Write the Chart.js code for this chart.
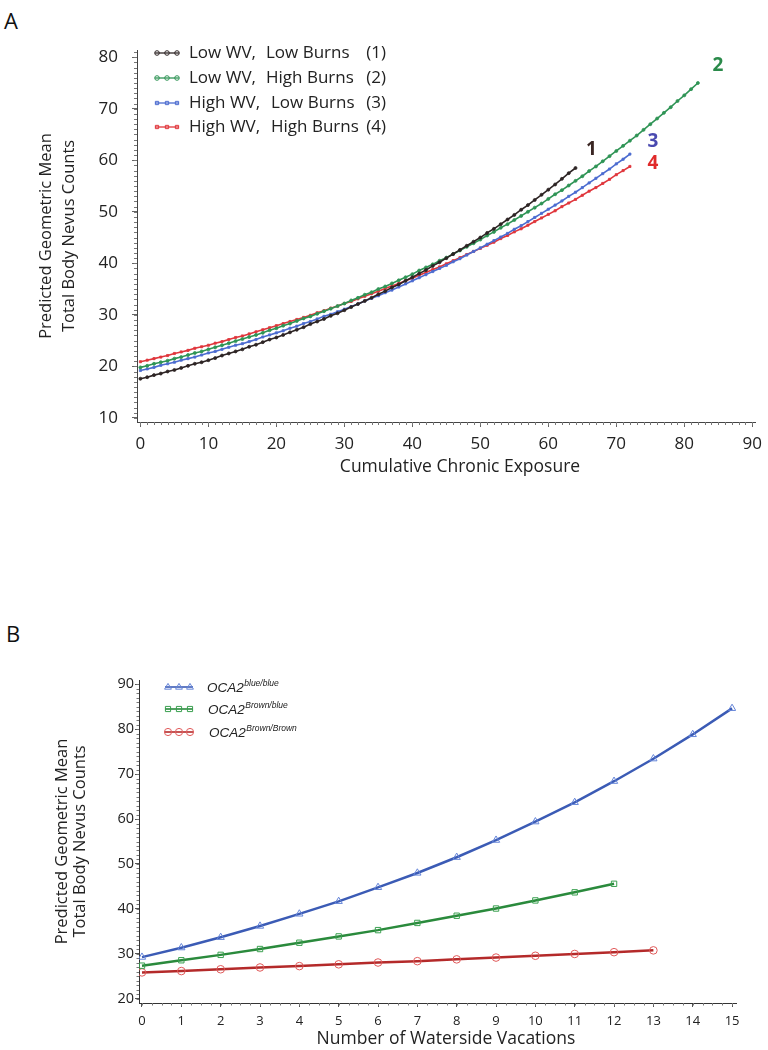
<!DOCTYPE html>
<html><head><meta charset="utf-8">
<script src="https://cdn.jsdelivr.net/npm/chart.js@4.4.1/dist/chart.umd.min.js"></script>
<style>
html,body{margin:0;padding:0;background:#fff;width:768px;height:1050px;overflow:hidden;}
#wrapA{position:absolute;left:0;top:0;width:768px;height:500px;}
#wrapB{position:absolute;left:0;top:600px;width:768px;height:450px;}
.panel{position:absolute;font-family:"Open Sans",sans-serif;font-size:22px;color:#111;line-height:26px;}
</style></head><body>
<div class="panel" style="left:4px;top:7px">A</div>
<div class="panel" style="left:6px;top:620px">B</div>
<div id="wrapA"><canvas id="cA" width="768" height="500"></canvas></div>
<div id="wrapB"><canvas id="cB" width="768" height="450"></canvas></div>
<script>
// ---------- Panel A data (x = cumulative chronic exposure, one point per unit starting at 0) ----------
const exposureTicks = [0,10,20,30,40,50,60,70,80,90];
const countTicksA = [10,20,30,40,50,60,70,80];
const lowWvLowBurns = [
17.6,17.9,18.3,18.6,19.0,19.3,19.7,20.1,20.5,20.8,
21.2,21.6,22.1,22.5,22.9,23.3,23.8,24.2,24.7,25.2,
25.6,26.1,26.6,27.1,27.6,28.2,28.7,29.2,29.8,30.3,
30.9,31.5,32.1,32.7,33.3,34.0,34.6,35.3,35.9,36.6,
37.3,38.0,38.7,39.5,40.2,41.0,41.8,42.6,43.4,44.2,
45.0,45.9,46.7,47.6,48.5,49.4,50.4,51.3,52.3,53.3,
54.3,55.3,56.4,57.5,58.5];
const lowWvHighBurns = [
19.8,20.1,20.5,20.8,21.1,21.5,21.8,22.2,22.6,22.9,
23.3,23.7,24.1,24.5,24.9,25.3,25.7,26.1,26.5,27.0,
27.4,27.9,28.3,28.8,29.3,29.7,30.2,30.7,31.2,31.7,
32.2,32.8,33.3,33.9,34.4,35.0,35.5,36.1,36.7,37.3,
37.9,38.6,39.2,39.8,40.5,41.1,41.8,42.5,43.2,43.9,
44.6,45.4,46.1,46.9,47.6,48.4,49.2,50.0,50.8,51.6,
52.5,53.4,54.2,55.1,56.0,56.9,57.9,58.8,59.8,60.8,
61.8,62.8,63.8,64.8,65.9,67.0,68.1,69.2,70.3,71.5,
72.6,73.8,75.0];
const highWvLowBurns = [
19.2,19.5,19.8,20.2,20.5,20.8,21.2,21.5,21.8,22.2,
22.6,22.9,23.3,23.7,24.1,24.4,24.8,25.2,25.7,26.1,
26.5,26.9,27.4,27.8,28.3,28.7,29.2,29.7,30.1,30.6,
31.1,31.6,32.1,32.7,33.2,33.7,34.3,34.8,35.4,36.0,
36.6,37.2,37.8,38.4,39.0,39.6,40.3,40.9,41.6,42.3,
43.0,43.7,44.4,45.1,45.8,46.6,47.3,48.1,48.9,49.7,
50.5,51.3,52.1,53.0,53.8,54.7,55.6,56.5,57.4,58.3,
59.3,60.2,61.2];
const highWvHighBurns = [
20.9,21.2,21.5,21.8,22.1,22.5,22.8,23.1,23.5,23.8,
24.1,24.5,24.8,25.2,25.6,25.9,26.3,26.7,27.1,27.5,
27.9,28.3,28.7,29.1,29.5,29.9,30.4,30.8,31.3,31.7,
32.2,32.6,33.1,33.6,34.1,34.6,35.1,35.6,36.1,36.6,
37.1,37.7,38.2,38.8,39.3,39.9,40.5,41.1,41.7,42.3,
42.9,43.5,44.1,44.8,45.4,46.1,46.7,47.4,48.1,48.8,
49.5,50.2,51.0,51.7,52.4,53.2,54.0,54.7,55.5,56.3,
57.2,58.0,58.8];
const seriesNamesA = ['Low WV,', 'Low WV,', 'High WV,', 'High WV,'];
const seriesBurnsA = ['Low Burns', 'High Burns', 'Low Burns', 'High Burns'];
const seriesNumA = ['(1)', '(2)', '(3)', '(4)'];
const endLabelsA = ['1', '2', '3', '4'];
const xTitleA = 'Cumulative Chronic Exposure';

// ---------- Panel B data ----------
const vacationTicks = [0,1,2,3,4,5,6,7,8,9,10,11,12,13,14,15];
const countTicksB = [20,30,40,50,60,70,80,90];
const ocaBlueBlue = [29.3,31.4,33.7,36.2,38.9,41.7,44.8,48.0,51.5,55.3,59.4,63.7,68.4,73.4,78.8,84.6];
const ocaBrownBlue = [27.4,28.6,29.8,31.1,32.5,33.9,35.3,36.9,38.5,40.1,41.9,43.7,45.6];
const ocaBrownBrown = [25.9,26.2,26.6,27.0,27.3,27.7,28.1,28.4,28.8,29.2,29.6,30.0,30.4,30.8];
const genotypeSup = ['blue/blue', 'Brown/blue', 'Brown/Brown'];
const xTitleB = 'Number of Waterside Vacations';

const FAM = '"Open Sans","DejaVu Sans",sans-serif';

const colA = ['#2d2424', '#2f9455', '#4c6cd0', '#e0363c'];
const labColA = ['#3a2623', '#2a8a4a', '#4a4ab0', '#e02a2a'];
const styleA = ['circle', 'circle', 'rect', 'rect'];

const minorTicks = {
  id: 'minorTicks',
  afterDraw(chart, args, o) {
    const ctx = chart.ctx, xs = chart.scales.x, ys = chart.scales.y;
    ctx.save();
    ctx.strokeStyle = o.color; ctx.lineWidth = 1;
    ctx.beginPath();
    for (let i = Math.ceil(xs.min / o.xStep); i * o.xStep <= xs.max + 1e-9; i++) {
      const p = Math.round(xs.getPixelForValue(i * o.xStep)) + 0.5;
      ctx.moveTo(p, xs.top); ctx.lineTo(p, xs.top + o.len);
    }
    for (let i = Math.ceil(ys.min / o.yStep); i * o.yStep <= ys.max + 1e-9; i++) {
      const p = Math.round(ys.getPixelForValue(i * o.yStep)) + 0.5;
      ctx.moveTo(ys.right, p); ctx.lineTo(ys.right - o.len, p);
    }
    ctx.stroke();
    // x-axis title, centred as in the reference
    ctx.fillStyle = '#222'; ctx.font = o.titleFont; ctx.textAlign = 'center'; ctx.textBaseline = 'middle';
    ctx.fillText(o.title, o.titleX, o.titleY);
    ctx.restore();
  }
};

function marker(ctx, style, x, y, r) {
  ctx.beginPath();
  if (style === 'circle') ctx.arc(x, y, r, 0, Math.PI * 2);
  else if (style === 'rect') ctx.rect(x - r * 0.72, y - r * 0.72, r * 1.44, r * 1.44);
  else if (style === 'triangle') { ctx.moveTo(x, y - r); ctx.lineTo(x + r * 0.95, y + r * 0.6); ctx.lineTo(x - r * 0.95, y + r * 0.6); ctx.closePath(); }
  ctx.stroke();
}

const legendA = {
  id: 'legendA',
  afterDraw(chart) {
    const ctx = chart.ctx;
    const rows = [53, 78, 103, 127];
    ctx.save();
    rows.forEach((y, i) => {
      ctx.strokeStyle = colA[i]; ctx.lineWidth = 1.3;
      ctx.beginPath(); ctx.moveTo(155, y); ctx.lineTo(179, y); ctx.stroke();
      ctx.lineWidth = 1;
      [157, 167, 177].forEach(mx => marker(ctx, styleA[i], mx, y, 2.3));
      ctx.fillStyle = '#222'; ctx.font = '17px ' + FAM; ctx.textBaseline = 'middle';
      ctx.textAlign = 'left';
      ctx.fillText(seriesNamesA[i], 189, y);
      ctx.fillText(seriesBurnsA[i], i < 2 ? 266 : 271, y);
      ctx.textAlign = 'right';
      ctx.fillText(seriesNumA[i], 386, y);
    });
    ctx.restore();
  }
};

const endLabels = {
  id: 'endLabels',
  afterDatasetsDraw(chart) {
    const ctx = chart.ctx;
    const off = [[16, -18], [20, -17], [23, -12], [23, -3]];
    ctx.save();
    ctx.font = 'bold 19px ' + FAM; ctx.textAlign = 'center'; ctx.textBaseline = 'middle';
    chart.data.datasets.forEach((d, i) => {
      const pts = chart.getDatasetMeta(i).data;
      const last = pts[pts.length - 1];
      ctx.fillStyle = labColA[i];
      ctx.fillText(endLabelsA[i], last.x + off[i][0], last.y + off[i][1]);
    });
    ctx.restore();
  }
};

const dataA = [lowWvLowBurns, lowWvHighBurns, highWvLowBurns, highWvHighBurns];
new Chart(document.getElementById('cA'), {
  type: 'line',
  data: {
    datasets: dataA.map((arr, i) => ({
      label: seriesNamesA[i] + ' ' + seriesBurnsA[i] + ' ' + seriesNumA[i],
      data: arr.map((v, k) => ({x: k, y: v})),
      borderColor: colA[i], borderWidth: 1.6, tension: 0,
      pointStyle: styleA[i], pointRadius: 1.5, pointBorderWidth: 0.8,
      pointBorderColor: colA[i], pointBackgroundColor: colA[i],
      fill: false
    }))
  },
  options: {
    responsive: false, animation: false, events: [],
    layout: {padding: {left: 0, right: 13, top: 50, bottom: 18}},
    plugins: {legend: {display: false}, tooltip: {enabled: false},
      minorTicks: {xStep: 1, yStep: 1, len: 3, color: '#777',
        title: xTitleA, titleX: 460, titleY: 467, titleFont: '17.5px ' + FAM}},
    scales: {
      x: {
        type: 'linear', min: -0.5, max: 90.4,
        afterBuildTicks: s => { s.ticks = exposureTicks.map(v => ({value: v})); },
        afterFit: s => { s.height = 60; s.paddingLeft = 0; s.paddingRight = 0; },
        grid: {drawOnChartArea: false, drawTicks: true, tickLength: 5, color: '#666', tickColor: '#666'},
        border: {display: true, color: '#444', width: 1},
        ticks: {autoSkip: false, maxRotation: 0, minRotation: 0, padding: 7, color: '#222', font: {family: FAM, size: 17}},
        title: {display: false}
      },
      y: {
        type: 'linear', min: 9.2, max: 81.4,
        afterBuildTicks: s => { s.ticks = countTicksA.map(v => ({value: v})); },
        afterFit: s => { s.width = 137; s.paddingTop = 0; s.paddingBottom = 0; },
        grid: {drawOnChartArea: false, drawTicks: true, tickLength: 5, color: '#666', tickColor: '#666'},
        border: {display: true, color: '#444', width: 1},
        ticks: {autoSkip: false, padding: 14, color: '#222', font: {family: FAM, size: 17}},
        title: {display: true, text: ['Predicted Geometric Mean', 'Total Body Nevus Counts'], color: '#222',
          font: {family: FAM, size: 16.5, lineHeight: 1.4}, padding: {top: 35, bottom: 0}}
      }
    }
  },
  plugins: [minorTicks, endLabels, legendA]
});

// ---------- Panel B ----------
const lineColB = ['#3b5bb5', '#2a8a3c', '#b42a2a'];
const markColB = ['#6585d8', '#3aa050', '#e05a5a'];
const styleB = ['triangle', 'rect', 'circle'];
const dataB = [ocaBlueBlue, ocaBrownBlue, ocaBrownBrown];

const legendB = {
  id: 'legendB',
  afterDraw(chart) {
    const ctx = chart.ctx;
    const rows = [87, 109, 132];
    ctx.save();
    rows.forEach((y, i) => {
      ctx.strokeStyle = lineColB[i]; ctx.lineWidth = 1.6;
      ctx.beginPath(); ctx.moveTo(165, y); ctx.lineTo(193, y); ctx.stroke();
      ctx.strokeStyle = markColB[i]; ctx.lineWidth = 1;
      [168, 179, 190].forEach(mx => marker(ctx, styleB[i], mx, y, 3.6));
      ctx.fillStyle = '#222'; ctx.textBaseline = 'alphabetic'; ctx.textAlign = 'left';
      ctx.font = 'italic 13.5px "Liberation Sans",Arial,sans-serif';
      const x0 = 207 + i;
      ctx.fillText('OCA2', x0, y + 5);
      const w = ctx.measureText('OCA2').width;
      ctx.font = 'italic 8.5px "Liberation Sans",Arial,sans-serif';
      ctx.fillText(genotypeSup[i], x0 + w + 0.5, y - 1);
    });
    ctx.restore();
  }
};

new Chart(document.getElementById('cB'), {
  type: 'line',
  data: {
    datasets: dataB.map((arr, i) => ({
      label: 'OCA2 ' + genotypeSup[i],
      data: arr.map((v, k) => ({x: vacationTicks[k], y: v})),
      borderColor: lineColB[i], borderWidth: 2.5, tension: 0,
      pointStyle: styleB[i], pointRadius: i === 0 ? 4.2 : 3.8, pointBorderWidth: 1,
      pointBorderColor: markColB[i], pointBackgroundColor: 'rgba(255,255,255,0)',
      fill: false
    }))
  },
  options: {
    responsive: false, animation: false, events: [],
    layout: {padding: {left: 0, right: 32, top: 80, bottom: 0}},
    plugins: {legend: {display: false}, tooltip: {enabled: false},
      minorTicks: {xStep: 0.25, yStep: 1, len: 2.5, color: '#777',
        title: xTitleB, titleX: 446, titleY: 439, titleFont: '17.5px ' + FAM}},
    scales: {
      x: {
        type: 'linear', min: -0.076, max: 15.1,
        afterBuildTicks: s => { s.ticks = vacationTicks.map(v => ({value: v})); },
        afterFit: s => { s.height = 47; s.paddingLeft = 0; s.paddingRight = 0; },
        grid: {drawOnChartArea: false, drawTicks: true, tickLength: 4, color: '#555', tickColor: '#555'},
        border: {display: true, color: '#333', width: 1},
        ticks: {autoSkip: false, maxRotation: 0, minRotation: 0, padding: 6, color: '#222', font: {family: FAM, size: 13}},
        title: {display: false}
      },
      y: {
        type: 'linear', min: 19.1, max: 90.9,
        afterBuildTicks: s => { s.ticks = countTicksB.map(v => ({value: v})); },
        afterFit: s => { s.width = 139; s.paddingTop = 0; s.paddingBottom = 0; },
        grid: {drawOnChartArea: false, drawTicks: true, tickLength: 4, color: '#555', tickColor: '#555'},
        border: {display: true, color: '#333', width: 1},
        ticks: {autoSkip: false, padding: 1, color: '#222', font: {family: FAM, size: 14.5}},
        title: {display: true, text: ['Predicted Geometric Mean', 'Total Body Nevus Counts'], color: '#222',
          font: {family: FAM, size: 16.5, lineHeight: 1.1}, padding: {top: 53, bottom: 0}}
      }
    }
  },
  plugins: [minorTicks, legendB]
});
</script>
</body></html>
